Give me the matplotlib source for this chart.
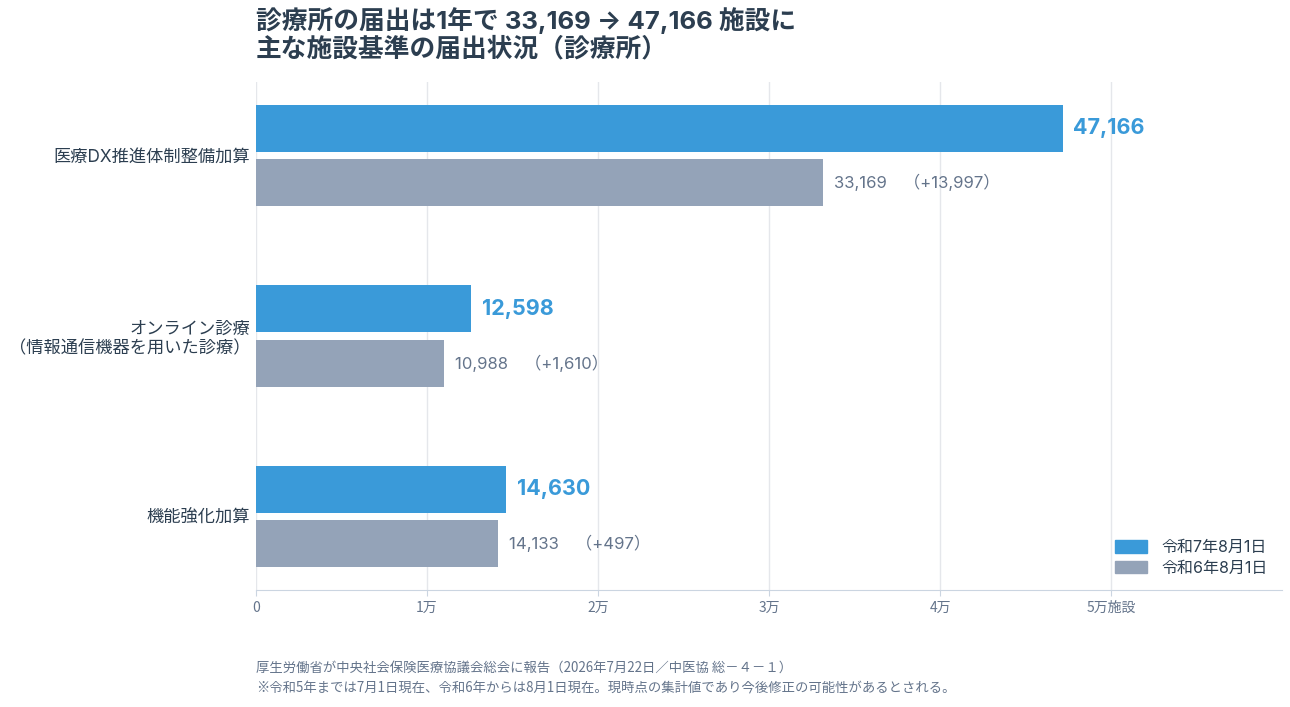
import matplotlib
matplotlib.use("Agg")
import matplotlib.pyplot as plt
from matplotlib.patches import Patch

WIDE = ['Inter', 'Noto Sans CJK JP', 'DejaVu Sans']
CJK = ['Noto Sans CJK JP', 'DejaVu Sans']
plt.rcParams['font.family'] = WIDE

categories = ["医療DX推進体制整備加算", "オンライン診療\n（情報通信機器を用いた診療）", "機能強化加算"]
r7_values = [47166, 12598, 14630]
r6_values = [33169, 10988, 14133]
series_labels = ["令和7年8月1日", "令和6年8月1日"]
tick_values = [0, 10000, 20000, 30000, 40000, 50000]
tick_labels = ["0", "1万", "2万", "3万", "4万", "5万施設"]
title_lines = ["診療所の届出は1年で 33,169 → 47,166 施設に", "主な施設基準の届出状況（診療所）"]
footnotes = ["厚生労働省が中央社会保険医療協議会総会に報告（2026年7月22日／中医協 総－４－１）",
             "※令和5年までは7月1日現在、令和6年からは8月1日現在。現時点の集計値であり今後修正の可能性があるとされる。"]

BLUE = "#3a9ad9"
GRAY = "#94a3b8"
DARK = "#2c3e50"
MUTED = "#64748b"

fig = plt.figure(figsize=(12.9, 7.07), dpi=100)
ax = fig.add_axes([256/1290, 1-590/707, 1026/1290, (590-82)/707])

h = 0.26
off = 0.15
ys = list(range(len(categories)))
for i, (a, b) in enumerate(zip(r7_values, r6_values)):
    ax.barh(i - off, a, height=h, color=BLUE, zorder=3)
    ax.barh(i + off, b, height=h, color=GRAY, zorder=3)
    ax.annotate(f"{a:,}", (a, i - off), xytext=(7.5, 0), textcoords="offset points",
                va="center", ha="left", fontsize=15.5, fontweight="bold", color=BLUE)
    ax.annotate(f"{b:,}　（+{a-b:,}）", (b, i + off), xytext=(8, 0), textcoords="offset points",
                va="center", ha="left", fontsize=12, color=MUTED)

ax.set_ylim(len(categories) - 1 + 0.407, -0.407)
ax.set_xlim(0, 60000)
ax.set_yticks(ys)
ax.set_yticklabels(categories, fontsize=12.4, color=DARK, ha="right", multialignment="right")
ax.tick_params(axis="y", length=0, pad=4)
ax.set_xticks(tick_values)
ax.set_xticklabels(tick_labels, fontsize=10, color=MUTED, family=CJK)
ax.tick_params(axis="x", length=4, color="#cbd5e1", pad=4)
ax.grid(axis="x", color="#e5e7eb", linewidth=1, zorder=0)
for s in ["top", "right", "left"]:
    ax.spines[s].set_visible(False)
ax.spines["bottom"].set_color("#cbd5e1")

handles = [Patch(color=BLUE), Patch(color=GRAY)]
ax.legend(handles, series_labels, loc="lower right", bbox_to_anchor=(1.0, 0.0),
          frameon=False, handlelength=2.0, handleheight=0.8, labelcolor=DARK,
          labelspacing=0.35, handletextpad=0.9, prop={'size': 11.5, 'family': WIDE})

fig.text(256/1290, 1-21/707, title_lines[0], fontsize=18.5, fontweight="bold", color=DARK, va="center", ha="left")
fig.text(256/1290, 1-49/707, title_lines[1], fontsize=18.5, fontweight="bold", color=DARK, va="center", ha="left")
fig.text(256/1290, 1-668/707, footnotes[0], fontsize=9.6, color=MUTED, va="center", ha="left", family=CJK)
fig.text(256/1290, 1-688/707, footnotes[1], fontsize=9.6, color=MUTED, va="center", ha="left", family=CJK)

fig.savefig("out.png", dpi=100, facecolor="white")
